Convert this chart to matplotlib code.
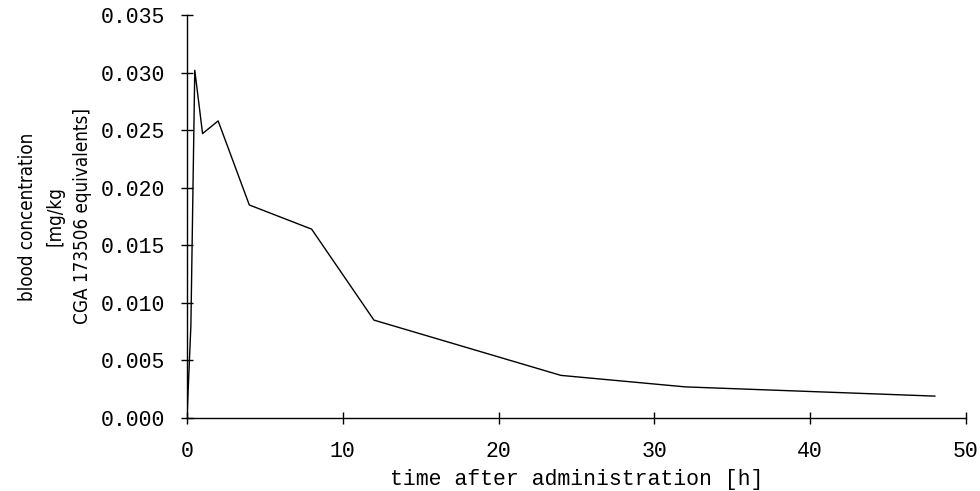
# Blood concentration after administration - recreated line chart

import matplotlib
matplotlib.use("Agg")
import matplotlib.pyplot as plt
from matplotlib import font_manager

# sampling times [h] and blood concentration [mg/kg]
time_h = [0, 0.25, 0.5, 1, 2, 4, 8, 12, 24, 32, 48]
concentration = [0.0, 0.0080, 0.0302, 0.0247, 0.0258, 0.0185, 0.0164,
                 0.0085, 0.0037, 0.0027, 0.0019]

x_ticks = [0, 10, 20, 30, 40, 50]
y_ticks = [0.000, 0.005, 0.010, 0.015, 0.020, 0.025, 0.030, 0.035]

# look for a narrow sans font for the y label, else shrink a normal one
names = set(f.name for f in font_manager.fontManager.ttflist)
if "Liberation Sans Narrow" in names:
    ylab_font = dict(family="Liberation Sans Narrow", fontsize=16)
elif "DejaVu Sans Condensed" in names or any(
        f.name == "DejaVu Sans" and f.stretch == "condensed"
        for f in font_manager.fontManager.ttflist):
    ylab_font = dict(family="DejaVu Sans", fontstretch="condensed", fontsize=13.5)
else:
    ylab_font = dict(family="Liberation Sans", fontsize=12.5)

fig = plt.figure(figsize=(9.8, 4.91), dpi=100)
ax = fig.add_axes([0.1908, 0.1487, 0.7949, 0.8208])

ax.plot(time_h, concentration, color="black", linewidth=1.0)

ax.set_xlim(0, 50)
ax.set_ylim(0, 0.035)
ax.set_xticks(x_ticks)
ax.set_yticks(y_ticks)
ax.set_yticklabels(["%.3f" % v for v in y_ticks])

# only left and bottom axis lines, ticks crossing the lines
for side in ["top", "right"]:
    ax.spines[side].set_visible(False)
for side in ["left", "bottom"]:
    ax.spines[side].set_linewidth(1.0)
ax.tick_params(direction="inout", length=9, width=1.0)
ax.tick_params(axis="y", pad=11)
ax.tick_params(axis="x", pad=12)

mono = ["Liberation Mono", "DejaVu Sans Mono"]
for lab in ax.get_xticklabels() + ax.get_yticklabels():
    lab.set_family(mono)
    lab.set_fontsize(15.5)

ax.set_xlabel("time after administration [h]", family=mono, fontsize=15.5,
              labelpad=5)
ax.set_ylabel("blood concentration\n[mg/kg\nCGA 173506 equivalents]",
              linespacing=1.55, multialignment="center", **ylab_font)
ax.yaxis.set_label_coords(-0.122, 0.5)

fig.savefig("out.png", dpi=100, facecolor="white")
